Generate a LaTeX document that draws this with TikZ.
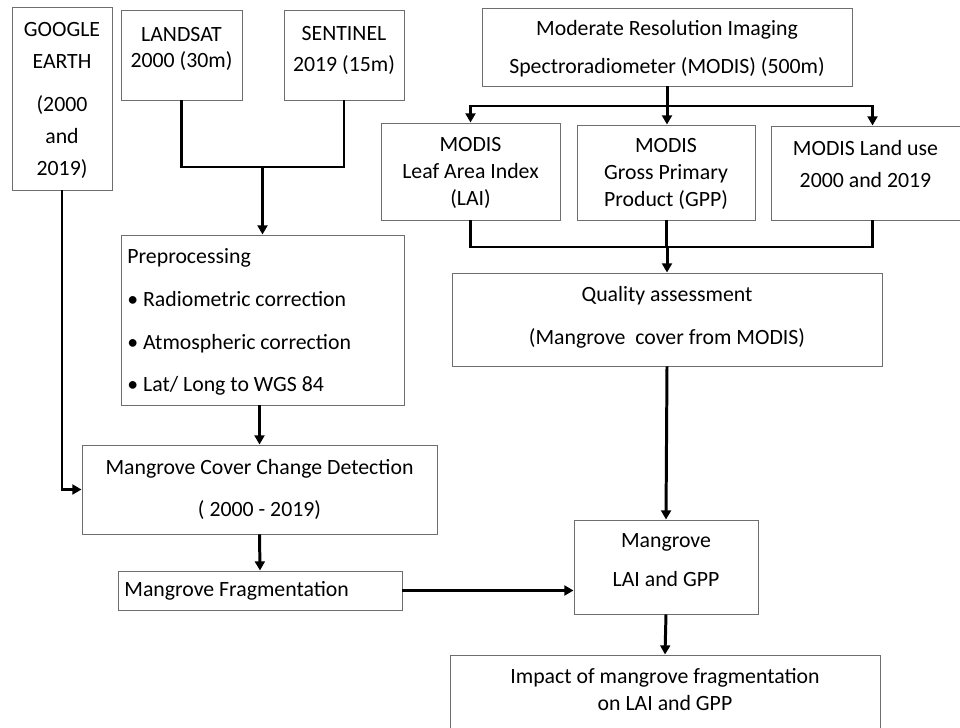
\documentclass[tikz,border=0pt]{standalone}
\usepackage{fontspec}
\setmainfont{Carlito}
\usetikzlibrary{arrows.meta,positioning}
\definecolor{boxgray}{HTML}{6E6E6E}

\begin{document}
\begin{tikzpicture}[
  box/.style={draw=boxgray, line width=0.55pt, inner sep=0pt},
  lbl/.style={align=center, inner sep=0pt, font=\fontsize{12.4pt}{#1}\selectfont},
  lbl/.default=15pt,
  link/.style={line width=1.7pt},
  flow/.style={line width=1.7pt, -{Triangle[length=5.2pt,width=5.6pt]}}]
  \useasboundingbox (0,0) rectangle (19.2,-14.56);

  % image sources
  \node[box, minimum width=2cm, minimum height=3.66cm,
    label={[lbl=18.4pt, yshift=-0.04cm]center:{GOOGLE\\EARTH\\[6pt](2000\\and\\2019)}}] (google) at (1.24,-1.97) {};
  \node[box, minimum width=2.42cm, minimum height=1.8cm,
    label={[lbl=14.8pt, yshift=0.12cm]center:{LANDSAT\\2000 (30m)}}] (landsat) at (3.63,-1.1) {};
  \node[box, minimum width=2.4cm, minimum height=1.8cm,
    label={[lbl=17.6pt, yshift=0.1cm]center:{SENTINEL\\2019 (15m)}}] (sentinel) at (6.88,-1.1) {};
  \node[box, minimum width=7.4cm, minimum height=1.56cm,
    label={[lbl=21.6pt, yshift=-0.04cm]center:{Moderate Resolution Imaging\\Spectroradiometer (MODIS) (500m)}}] (modis) at (13.34,-0.94) {};

  % MODIS products
  \node[box, minimum width=3.58cm, minimum height=1.94cm,
    label={[lbl=15.3pt, yshift=-0.03cm]center:{MODIS\\Leaf Area Index\\(LAI)}}] (lai) at (9.41,-3.43) {};
  \node[box, minimum width=3.56cm, minimum height=1.9cm,
    label={[lbl=15.6pt, yshift=-0.03cm]center:{MODIS\\Gross Primary\\Product (GPP)}}] (gpp) at (13.32,-3.45) {};
  \node[box, minimum width=3.78cm, minimum height=1.88cm,
    label={[lbl=18.2pt, yshift=0.18cm]center:{MODIS Land use\\2000 and 2019}}] (landuse) at (17.31,-3.46) {};

  % processing chain
  \node[box, minimum width=5.66cm, minimum height=3.4cm,
    label={[lbl=24.4pt, align=left, anchor=west, xshift=0.13cm, yshift=-0.04cm]west:{Preprocessing\\\textbullet\ Radiometric correction\\\textbullet\ Atmospheric correction\\\textbullet\ Lat/ Long to WGS 84}}] (prep) at (5.25,-6.4) {};
  \node[box, minimum width=8.6cm, minimum height=1.86cm,
    label={[lbl=24.4pt, yshift=0.04cm]center:{Quality assessment\\(Mangrove\ \ cover from MODIS)}}] (quality) at (13.34,-6.39) {};
  \node[box, minimum width=7.1cm, minimum height=1.78cm,
    label={[lbl=23.8pt]center:{Mangrove Cover Change Detection\\( 2000 - 2019)}}] (change) at (5.19,-9.79) {};
  \node[box, minimum width=5.68cm, minimum height=0.78cm,
    label={[lbl, anchor=west, xshift=0.13cm]west:{Mangrove Fragmentation}}] (frag) at (5.2,-11.81) {};
  \node[box, minimum width=3.68cm, minimum height=1.88cm,
    label={[lbl=22.1pt, yshift=0.13cm]center:{Mangrove\\LAI and GPP}}] (mlaigpp) at (13.32,-11.34) {};
  \node[box, minimum width=8.6cm, minimum height=1.7cm,
    label={[lbl=15.3pt, yshift=0.16cm]center:{Impact of mangrove fragmentation\\on LAI and GPP}}] (impact) at (13.3,-13.95) {};

  % junction points
  \coordinate (joinA) at (5.25,-3.34);
  \coordinate (splitB) at (13.34,-2.12);
  \coordinate (joinC) at (13.34,-4.94);
  \coordinate (luin) at ([xshift=0.14cm]landuse.north);
  \coordinate (luout) at ([xshift=0.14cm]landuse.south);

  % connectors
  \draw[link] (landsat.south) |- (joinA) -| (sentinel.south);
  \draw[flow] (joinA) -- (prep.north);
  \draw[flow] (modis.south) -- (modis.south |- gpp.north);
  \draw[flow] (splitB) -| (lai.north);
  \draw[flow] (splitB) -| (luin);
  \draw[link] (lai.south) |- (joinC) -| (luout);
  \draw[link] (gpp.south) -- (gpp.south |- joinC);
  \draw[flow] (joinC) -- (quality.north);
  \draw[flow] (google.south) |- (change.west);
  \draw[flow] (prep.south -| change.north) -- (change.north);
  \draw[flow] (change.south) -- (frag.north);
  \draw[flow] (frag.east) -- (frag.east -| mlaigpp.west);
  \draw[flow] (quality.south) -- (mlaigpp.north);
  \draw[flow] (mlaigpp.south) -- (impact.north);
\end{tikzpicture}
\end{document}
